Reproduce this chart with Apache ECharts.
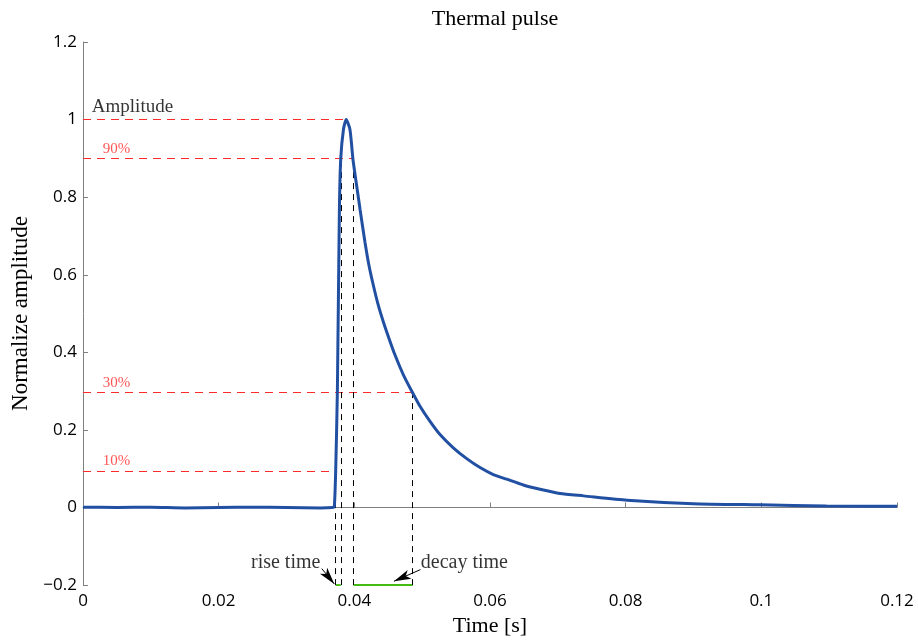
<!DOCTYPE html>
<html>
<head>
<meta charset="utf-8">
<script src="https://cdn.jsdelivr.net/npm/echarts@6/dist/echarts.min.js"></script>
<style>html,body{margin:0;padding:0;background:#fff}#c{width:918px;height:642px}</style>
</head>
<body>
<div id="c"></div>
<script>
// Pulse data (time in s, normalized amplitude)
var time = [0, 0.005, 0.01, 0.015, 0.02, 0.025, 0.03, 0.035, 0.0368, 0.03705, 0.03725, 0.0375, 0.0378, 0.038, 0.0384, 0.0388, 0.03936, 0.0398, 0.04035, 0.04084, 0.04157, 0.04216, 0.0428, 0.04354, 0.04427, 0.04511, 0.046, 0.04723, 0.04855, 0.04968, 0.05116, 0.05263, 0.05459, 0.05657, 0.05853, 0.06049, 0.06246, 0.06491, 0.06737, 0.07032, 0.0738, 0.0802, 0.09, 0.0998, 0.1096, 0.12];
var amplitude = [0.001, 0.0, 0.001, -0.001, 0.0, 0.001, 0.0, -0.001, 0.0, 0.002, 0.094, 0.30, 0.77, 0.90, 0.975, 1.0, 0.974, 0.897, 0.829, 0.769, 0.684, 0.624, 0.573, 0.521, 0.479, 0.436, 0.393, 0.342, 0.297, 0.261, 0.222, 0.188, 0.154, 0.126, 0.103, 0.085, 0.073, 0.058, 0.047, 0.036, 0.030, 0.019, 0.010, 0.007, 0.004, 0.003];

// Reference levels (red dashed horizontals)
var levelValues = [1.0, 0.9, 0.297, 0.094];
var levelEnds = [0.0388, 0.0399, 0.0486, 0.03725];
var levelLabels = ['Amplitude', '90%', '30%', '10%'];

// Vertical markers (black dashed)
var markerX = [0.03725, 0.038, 0.0399, 0.0486];
var markerTop = [0.094, 0.9, 0.9, 0.297];

// Time intervals (green)
var riseInterval = [0.03725, 0.038];
var decayInterval = [0.0399, 0.0486];

var xTicks = [0, 0.02, 0.04, 0.06, 0.08, 0.1, 0.12];
var yMin = -0.2, yMax = 1.2;

var curve = time.map(function (t, i) { return [t, amplitude[i]]; });

var series = [];
// red horizontals
series.push({
  type: 'line', data: [], silent: true, z: 3,
  markLine: {
    silent: true, symbol: ['none', 'none'], label: { show: false }, animation: false,
    lineStyle: { color: '#ff2a2a', width: 1, type: [8, 6], opacity: 1 },
    data: levelValues.map(function (v, i) {
      return [{ coord: [0, v] }, { coord: [levelEnds[i], v] }];
    })
  }
});
// black verticals
series.push({
  type: 'line', data: [], silent: true, z: 3,
  markLine: {
    silent: true, symbol: ['none', 'none'], label: { show: false }, animation: false,
    lineStyle: { color: '#000', width: 1, type: [6, 5], opacity: 1 },
    data: markerX.map(function (x, i) {
      return [{ coord: [x, yMin] }, { coord: [x, markerTop[i]] }];
    })
  }
});
// green intervals
[riseInterval, decayInterval].forEach(function (iv) {
  series.push({
    type: 'line', data: [[iv[0], yMin], [iv[1], yMin]], symbol: 'none', silent: true, z: 4,
    color: '#44bb11',
    lineStyle: { color: '#44bb11', width: 2 }
  });
});
// main curve
series.push({
  type: 'line', data: curve, symbol: 'none', smooth: 0.2, z: 5, color: '#2150a2',
  lineStyle: { color: '#2150a2', width: 3 }
});
// level labels
series.push({
  type: 'scatter', symbolSize: 0, silent: true, z: 6,
  data: [
    { value: [0.0013, levelValues[0]], label: { color: '#000', fontSize: 19, distance: 3 } },
    { value: [0.0029, levelValues[1]] },
    { value: [0.0029, levelValues[2]] },
    { value: [0.0029, levelValues[3]] }
  ],
  label: {
    show: true, position: 'top', align: 'left', distance: 2,
    fontFamily: 'Liberation Serif', fontSize: 15, color: '#ff2a2a',
    formatter: function (p) { return levelLabels[p.dataIndex]; }
  }
});
// annotation texts
series.push({
  type: 'scatter', symbolSize: 0, silent: true, z: 6,
  data: [
    { value: [0.0350, -0.1436], label: { position: 'left', formatter: 'rise time' } },
    { value: [0.0498, -0.1436], label: { position: 'right', formatter: 'decay time' } }
  ],
  label: { show: true, distance: 0, fontFamily: 'Liberation Serif', fontSize: 20, color: '#000' }
});
// arrows
series.push({
  type: 'line', data: [], silent: true, z: 6,
  markLine: {
    silent: true, symbol: ['none', 'arrow'], symbolSize: [7, 17], animation: false,
    label: { show: false },
    lineStyle: { color: '#000', width: 1, type: 'solid' },
    data: [
      [{ coord: [0.03520, -0.1575] }, { coord: [0.03705, -0.197] }],
      [{ coord: [0.04975, -0.1600] }, { coord: [0.04585, -0.190] }]
    ]
  }
});

var chart = echarts.init(document.getElementById('c'));
chart.setOption({
  animation: false,
  backgroundColor: '#fff',
  title: {
    text: 'Thermal pulse', left: 490, top: 3, textAlign: 'center',
    textStyle: { fontFamily: 'Liberation Serif', fontSize: 22, fontWeight: 'normal', color: '#000' }
  },
  grid: { left: 83, right: 21, top: 42, bottom: 54, containLabel: false },
  xAxis: {
    type: 'value', min: 0, max: 0.12, interval: 0.02,
    name: 'Time [s]', nameLocation: 'middle', nameGap: 25,
    nameTextStyle: { fontFamily: 'Liberation Serif', fontSize: 22, color: '#000' },
    axisLine: { lineStyle: { color: '#808080', width: 1 } },
    axisTick: { inside: true, length: 5, lineStyle: { color: '#808080' } },
    axisLabel: { margin: 8, fontFamily: 'Open Sans', fontSize: 17, color: '#000',
      formatter: function (v) { return xTicks.indexOf(+v.toFixed(4)) >= 0 ? String(+v.toFixed(4)) : ''; } },
    splitLine: { show: false }
  },
  yAxis: {
    type: 'value', min: yMin, max: yMax, interval: 0.2,
    name: 'Normalize amplitude', nameLocation: 'middle', nameGap: 44,
    nameTextStyle: { fontFamily: 'Liberation Serif', fontSize: 23, color: '#000' },
    axisLine: { show: true, lineStyle: { color: '#808080', width: 1 } },
    axisTick: { show: true, inside: true, length: 5, lineStyle: { color: '#808080' } },
    axisLabel: { margin: 6, fontFamily: 'Open Sans', fontSize: 17, color: '#000',
      formatter: function (v) { var s = String(+v.toFixed(4)); return s.replace('-', '\u2212'); } },
    splitLine: { show: false }
  },
  series: series
});
</script>
</body>
</html>
